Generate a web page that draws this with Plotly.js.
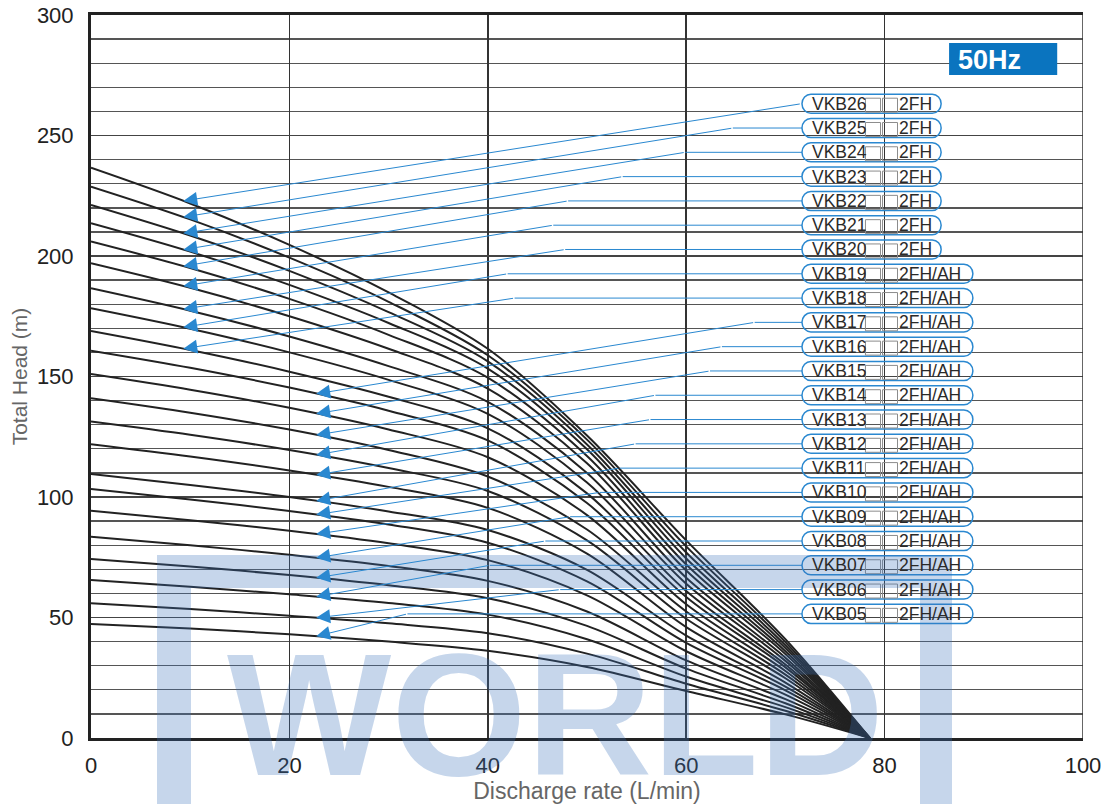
<!DOCTYPE html>
<html><head><meta charset="utf-8">
<script src="https://cdn.plot.ly/plotly-3.0.1.min.js"></script>
<style>html,body{margin:0;padding:0;background:#fff}#chart{width:1110px;height:804px}</style>
</head><body><div id="chart"></div>
<script>
// ---------------- data ----------------
const flowRate = [0, 10, 20, 30, 40, 50, 60, 70, 78.5];
const modelNames = ['VKB05','VKB06','VKB07','VKB08','VKB09','VKB10','VKB11','VKB12','VKB13','VKB14','VKB15',
                    'VKB16','VKB17','VKB18','VKB19','VKB20','VKB21','VKB22','VKB23','VKB24','VKB25','VKB26'];
const modelSuffix = ['2FH/AH','2FH/AH','2FH/AH','2FH/AH','2FH/AH','2FH/AH','2FH/AH','2FH/AH','2FH/AH','2FH/AH','2FH/AH',
                     '2FH/AH','2FH/AH','2FH/AH','2FH/AH','2FH','2FH','2FH','2FH','2FH','2FH','2FH'];
const head05 = [47.3, 45.4, 43.0, 40.0, 36.2, 29.5, 19.5, 9.8, 0];
const head06 = [55.9, 53.5, 50.7, 47.6, 43.5, 35.0, 22.5, 11.3, 0];
const head07 = [65.6, 62.8, 59.6, 56.0, 51.2, 41.0, 25.5, 12.8, 0];
const head08 = [74.3, 71.2, 67.6, 63.4, 58.0, 46.5, 28.8, 14.4, 0];
const head09 = [83.5, 80.0, 76.0, 71.4, 65.2, 52.5, 32.2, 16.1, 0];
const head10 = [94.3, 90.4, 86.0, 80.8, 73.8, 59.2, 36.0, 18.0, 0];
const head11 = [103.3, 99.0, 94.2, 88.6, 81.0, 65.0, 39.5, 19.8, 0];
const head12 = [109.5, 105.0, 100.0, 94.0, 86.3, 69.8, 42.5, 21.3, 0];
const head13 = [121.9, 116.8, 111.0, 104.2, 95.5, 76.5, 46.0, 23.0, 0];
const head14 = [131.3, 125.8, 119.5, 112.0, 102.5, 82.0, 49.5, 24.8, 0];
const head15 = [141.0, 135.0, 128.0, 119.5, 108.5, 86.5, 52.5, 26.3, 0];
const head16 = [151.0, 144.5, 137.0, 128.0, 116.5, 92.5, 55.5, 27.8, 0];
const head17 = [160.7, 153.6, 145.4, 135.8, 123.5, 97.5, 58.5, 29.3, 0];
const head18 = [168.9, 161.0, 152.0, 141.6, 128.5, 101.5, 61.0, 30.5, 0];
const head19 = [178.3, 169.8, 160.0, 148.6, 134.5, 106.0, 64.0, 32.0, 0];
const head20 = [186.6, 177.3, 166.6, 154.3, 139.5, 110.0, 66.5, 33.3, 0];
const head21 = [197.0, 186.8, 175.0, 161.5, 145.0, 114.0, 69.5, 34.8, 0];
const head22 = [206.0, 195.0, 182.2, 167.3, 149.5, 117.0, 72.0, 36.0, 0];
const head23 = [213.6, 201.8, 188.0, 172.2, 153.3, 119.8, 74.5, 37.3, 0];
const head24 = [221.2, 208.5, 193.8, 176.7, 156.3, 121.8, 77.0, 38.5, 0];
const head25 = [228.8, 215.2, 199.3, 181.0, 158.8, 123.8, 79.5, 39.8, 0];
const head26 = [236.6, 221.8, 204.6, 184.9, 161.5, 125.5, 82.0, 41.0, 0];
const headCurves = [head05, head06, head07, head08, head09, head10, head11, head12, head13, head14, head15,
                    head16, head17, head18, head19, head20, head21, head22, head23, head24, head25, head26];
const xTickVals = [0, 20, 40, 60, 80, 100];
const yTickVals = [0, 50, 100, 150, 200, 250, 300];

// ---------------- layout helpers (positions, not data) ----------------
const arrowTipX  = [22.7,22.7,22.7,22.7,22.7,22.7,22.7,22.7,22.7,22.7,22.7,22.7,22.7, 9.3,9.3,9.3,9.3,9.3,9.3,9.3,9.3,9.3];
const leaderKinkX = [31.9,47.3,40.2,45.8,48.3,51.3,53.3,54.9,56.4,56.9,62.4,63.6,66.9, 42.7,42.0,47.8,46.6,48.1,53.6,59.9,64.7,71.6];
const labelX0 = 71.67, labelX1Short = 85.7, labelX1Long = 88.9;
const labelY0 = 51.5, labelDY = 10.08;
const sq1 = [78.07, 79.59], sq2 = [79.79, 81.30], suffixX = 81.2;
const blue = '#2a88d0';

function interpAt(xs, ys, x) {
  for (let i = 0; i < xs.length - 1; i++) {
    if (x >= xs[i] && x <= xs[i+1]) {
      const t = (x - xs[i]) / (xs[i+1] - xs[i]);
      return ys[i] + t * (ys[i+1] - ys[i]);
    }
  }
  return ys[ys.length - 1];
}
function pillPath(x0, x1, yc, hy, rx) {
  const k = 0.5523, ky = k * hy, kx = k * rx;
  return `M${x0+rx},${yc+hy} L${x1-rx},${yc+hy} C${x1-rx+kx},${yc+hy} ${x1},${yc+ky} ${x1},${yc} ` +
         `C${x1},${yc-ky} ${x1-rx+kx},${yc-hy} ${x1-rx},${yc-hy} L${x0+rx},${yc-hy} ` +
         `C${x0+rx-kx},${yc-hy} ${x0},${yc-ky} ${x0},${yc} C${x0},${yc+ky} ${x0+rx-kx},${yc+hy} ${x0+rx},${yc+hy} Z`;
}

const traces = headCurves.map((h, i) => ({
  x: flowRate, y: h, type: 'scatter', mode: 'lines', name: modelNames[i],
  line: {color: '#222222', width: 2, shape: 'spline', smoothing: 0.9},
  hoverinfo: 'name+x+y', showlegend: false
}));

const shapes = [];
const annotations = [];
const font = 'Liberation Sans, Arial, Helvetica, sans-serif';

modelNames.forEach((m, i) => {
  const yc = labelY0 + i * labelDY;
  const x1 = modelSuffix[i] === '2FH' ? labelX1Short : labelX1Long;
  shapes.push({type: 'path', xref: 'x', yref: 'y', path: pillPath(labelX0, x1, yc, 3.95, 0.9),
               line: {color: blue, width: 1.5}, fillcolor: 'rgba(0,0,0,0)', layer: 'above'});
  [sq1, sq2].forEach(s => shapes.push({type: 'rect', xref: 'x', yref: 'y', x0: s[0], x1: s[1], y0: yc - 3.5, y1: yc + 2.3,
               line: {color: '#8c8c8c', width: 1}, fillcolor: 'rgba(0,0,0,0)', layer: 'above'}));
  const kx = leaderKinkX[i];
  if (kx < labelX0 - 0.2) {
    shapes.push({type: 'line', xref: 'x', yref: 'y', x0: kx, x1: labelX0, y0: yc, y1: yc,
                 line: {color: blue, width: 1}, layer: 'above'});
  }
  const tx = arrowTipX[i];
  const ty = interpAt(flowRate, headCurves[i], tx);
  annotations.push({x: tx, y: ty, xref: 'x', yref: 'y', ax: Math.min(kx, labelX0), ay: yc, axref: 'x', ayref: 'y',
                    text: '', showarrow: true, arrowhead: 2, arrowsize: 2.8, arrowwidth: 1, arrowcolor: blue, standoff: 0});
  annotations.push({x: labelX0 + 0.85, y: yc, xref: 'x', yref: 'y', xanchor: 'left', yanchor: 'middle', showarrow: false,
                    text: m, font: {family: font, size: 17.5, color: '#2a2a2a'}});
  annotations.push({x: suffixX, y: yc, xref: 'x', yref: 'y', xanchor: 'left', yanchor: 'middle', showarrow: false,
                    text: modelSuffix[i], font: {family: font, size: 17.5, color: '#2a2a2a'}});
});

// right border
shapes.push({type: 'line', xref: 'x', yref: 'y', x0: 100, x1: 100, y0: 0, y1: 300, line: {color: '#333', width: 1.5}, layer: 'above'});
// 50Hz badge
shapes.push({type: 'rect', xref: 'x', yref: 'y', x0: 86.5, x1: 97.4, y0: 275.1, y1: 288.4,
             fillcolor: '#0a74bf', line: {width: 0}, layer: 'above'});
annotations.push({x: 87.2, y: 281.5, xref: 'x', yref: 'y', xanchor: 'left', yanchor: 'middle', showarrow: false,
                  text: '<b>50Hz</b>', font: {family: font, size: 27, color: '#ffffff'}});

// watermark
const wm = 'rgba(60,115,185,0.29)';
const px = v => (v - 91) / 992, py = v => (738 - v) / 723;
shapes.push({type: 'rect', xref: 'paper', yref: 'paper', x0: px(157), x1: px(952), y0: py(588), y1: py(555), fillcolor: wm, line: {width: 0}, layer: 'above'});
shapes.push({type: 'rect', xref: 'paper', yref: 'paper', x0: px(157), x1: px(191), y0: py(810), y1: py(588), fillcolor: wm, line: {width: 0}, layer: 'above'});
shapes.push({type: 'rect', xref: 'paper', yref: 'paper', x0: px(920), x1: px(952), y0: py(810), y1: py(588), fillcolor: wm, line: {width: 0}, layer: 'above'});
annotations.push({x: px(555), y: py(777), xref: 'paper', yref: 'paper', xanchor: 'center', yanchor: 'bottom', showarrow: false,
                  text: '<b>WORLD</b>', font: {family: font, size: 174, color: wm}, yshift: -37});

const layout = {
  width: 1110, height: 804,
  margin: {l: 91, r: 27, t: 15, b: 66},
  paper_bgcolor: '#ffffff', plot_bgcolor: '#ffffff',
  font: {family: font, color: '#222'},
  xaxis: {
    range: [0, 100], tickvals: xTickVals, ticktext: xTickVals.map(String),
    showgrid: true, gridcolor: '#333', gridwidth: 1.5, zeroline: false,
    showline: true, linecolor: '#222', linewidth: 3, mirror: true,
    ticks: '', ticklabelstandoff: 6, tickfont: {family: font, size: 22, color: '#222'},
    title: {text: 'Discharge rate (L/min)', font: {family: font, size: 23, color: '#666'}, standoff: 0},
    fixedrange: true
  },
  yaxis: {
    range: [0, 300], tickvals: yTickVals, ticktext: yTickVals.map(String),
    showgrid: true, gridcolor: '#444', gridwidth: 1.4, zeroline: false,
    minor: {dtick: 10, tick0: 0, showgrid: true, gridcolor: '#555', gridwidth: 1.4, ticks: ''},
    showline: true, linecolor: '#222', linewidth: 3, mirror: false,
    ticks: '', ticklabelstandoff: 10, tickfont: {family: font, size: 22, color: '#222'},
    title: {text: 'Total Head (m)', font: {family: font, size: 21, color: '#666'}, standoff: 4},
    fixedrange: true
  },
  shapes: shapes,
  annotations: annotations,
  showlegend: false
};

Plotly.newPlot('chart', traces, layout, {displayModeBar: false, staticPlot: true});
</script>
</body></html>
